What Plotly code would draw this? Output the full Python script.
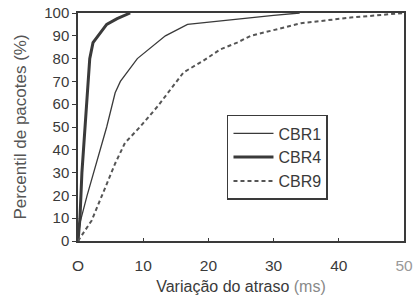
import plotly.graph_objects as go

# Data
cbr1_x = [0, 0.3, 1.4, 4.4, 5.7, 6.5, 9.1, 13.4, 16.8, 20, 25, 30, 34]
cbr1_y = [0, 8, 20, 50, 65, 70, 80, 90, 95, 96, 97.5, 99, 100]

cbr4_x = [0, 0.3, 0.6, 1.1, 1.8, 2.3, 3.1, 4.4, 6, 8]
cbr4_y = [0, 10, 30, 50, 80, 87, 90, 95, 97.5, 100]

cbr9_x = [0, 1.1, 2.1, 5.7, 7.2, 9.5, 12.2, 16.2, 19.2, 21.8, 24.4, 26.5, 34.2, 41.8, 50]
cbr9_y = [0, 5, 9, 34, 43, 50, 59, 74, 79, 84, 87, 90, 95.5, 98, 100]

x_ticks = [0, 10, 20, 30, 40, 50]
x_tick_labels = ["O", "10", "20", "30", "40", "<span style='color:#999'>50</span>"]
y_ticks = [0, 10, 20, 30, 40, 50, 60, 70, 80, 90, 100]

font_family = "Liberation Sans, Arial, sans-serif"
ink = "#3a3a3a"

fig = go.Figure()
fig.add_trace(go.Scatter(x=cbr1_x, y=cbr1_y, mode="lines", name="CBR1",
                         line=dict(color=ink, width=1.3)))
fig.add_trace(go.Scatter(x=cbr4_x, y=cbr4_y, mode="lines", name="CBR4",
                         line=dict(color=ink, width=3)))
fig.add_trace(go.Scatter(x=cbr9_x, y=cbr9_y, mode="lines", name="CBR9",
                         line=dict(color="#555", width=2, dash="4px,3px")))

fig.update_layout(
    width=416, height=298,
    margin=dict(l=78, r=12, t=13, b=57),
    paper_bgcolor="white", plot_bgcolor="white",
    font=dict(family=font_family, size=15, color=ink),
    showlegend=True,
    legend=dict(x=0.457, y=0.553, xanchor="left", yanchor="top",
                bgcolor="white", bordercolor=ink, borderwidth=1.5,
                font=dict(size=16, color=ink), itemwidth=40,
                tracegroupgap=0),
)
fig.update_xaxes(
    range=[0, 50], tickvals=x_ticks, ticktext=x_tick_labels,
    automargin=False,
    showgrid=False, zeroline=False,
    showline=True, linecolor=ink, linewidth=1.5, mirror=True,
    ticks="inside", ticklen=3, tickcolor=ink,
    ticklabelstandoff=10,
    tickfont=dict(size=15.5, color=ink),
    title=dict(text="Variação do atraso <span style='color:#888'>(ms)</span>",
               font=dict(size=16, color=ink), standoff=7),
)
fig.update_yaxes(
    range=[0, 100], tickvals=y_ticks,
    automargin=False,
    showgrid=False, zeroline=False,
    showline=True, linecolor=ink, linewidth=1.5, mirror=True,
    ticks="outside", ticklen=4, tickcolor=ink,
    tickfont=dict(size=15, color=ink),
    title=dict(text="Percentil de pacotes (%)", font=dict(size=17, color="#555"),
               standoff=13),
)

fig.write_html("out.html",
               config={"displayModeBar": False},
               post_script="document.body.style.margin='0';document.body.style.overflow='hidden';")
